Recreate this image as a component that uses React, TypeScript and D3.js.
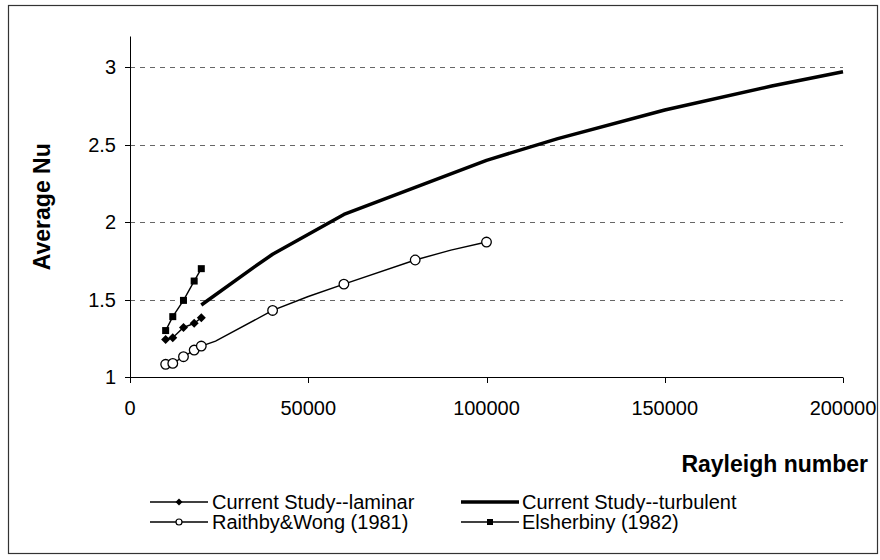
import React from "react";
import * as d3 from "d3";

// Current study, laminar regime
const laminarRa = [10000, 12000, 15000, 18000, 20000];
const laminarNu = [1.243, 1.254, 1.32, 1.347, 1.383];

// Current study, turbulent regime
const turbulentRa = [20000, 35000, 40000, 60000, 80000, 100000, 120000, 150000, 180000, 200000];
const turbulentNu = [1.465, 1.713, 1.793, 2.05, 2.225, 2.4, 2.54, 2.725, 2.88, 2.972];

// Raithby & Wong (1981) correlation; marked entries carry a circle
const raithbyRa = [10000, 12000, 15000, 18000, 20000, 24000, 40000, 50000, 60000, 80000, 90000, 100000];
const raithbyNu = [1.082, 1.088, 1.131, 1.174, 1.2, 1.232, 1.43, 1.52, 1.6, 1.756, 1.82, 1.872];
const raithbyMarked = [true, true, true, true, true, false, true, false, true, true, false, true];

// Elsherbiny (1982)
const elsherbinyRa = [10000, 12000, 15000, 18000, 20000];
const elsherbinyNu = [1.3, 1.39, 1.495, 1.62, 1.7];

const xTicks = [0, 50000, 100000, 150000, 200000];
const yTicks = [1, 1.5, 2, 2.5, 3];
const yGrid = [1.5, 2, 2.5, 3];

const W = 880;
const H = 560;
const FONT = "'Liberation Sans', Arial, Helvetica, sans-serif";

type Pt = [number, number];
const zip = (a: number[], b: number[]): Pt[] => a.map((v, i) => [v, b[i]]);

export default function App() {
  const x = d3.scaleLinear().domain([0, 200000]).range([130, 843]);
  const y = d3.scaleLinear().domain([1, 3.2]).range([377, 36.5]);
  const line = d3
    .line<Pt>()
    .x((d) => x(d[0]))
    .y((d) => y(d[1]));

  const laminar = zip(laminarRa, laminarNu);
  const turbulent = zip(turbulentRa, turbulentNu);
  const raithby = zip(raithbyRa, raithbyNu);
  const elsherbiny = zip(elsherbinyRa, elsherbinyNu);

  const diamond = (cx: number, cy: number, s = 4.5) =>
    `M${cx},${cy - s}L${cx + s},${cy}L${cx},${cy + s}L${cx - s},${cy}Z`;

  return (
    <svg
      width={W}
      height={H}
      style={{ position: "absolute", left: 0, top: 0, display: "block" }}
      fontFamily={FONT}
    >
      <rect x={0} y={0} width={W} height={H} fill="#fff" />
      <rect x={8.5} y={5.5} width={869} height={548} fill="none" stroke="#333" strokeWidth={1.2} />

      {/* horizontal dashed gridlines */}
      {yGrid.map((v) => (
        <line
          key={`g${v}`}
          x1={x(0)}
          x2={x(200000)}
          y1={Math.round(y(v)) + 0.5}
          y2={Math.round(y(v)) + 0.5}
          stroke="#666"
          strokeWidth={1}
          strokeDasharray="5,5"
        />
      ))}

      {/* axes */}
      <line x1={130.5} x2={130.5} y1={y(3.2)} y2={y(1)} stroke="#000" strokeWidth={1} />
      <line x1={x(0)} x2={x(200000)} y1={377.5} y2={377.5} stroke="#000" strokeWidth={1} />
      {yTicks.map((v) => (
        <g key={`yt${v}`}>
          <line x1={125} x2={130.5} y1={Math.round(y(v)) + 0.5} y2={Math.round(y(v)) + 0.5} stroke="#000" />
          <text x={116} y={y(v)} dy="0.35em" textAnchor="end" fontSize={20} fill="#000">
            {v}
          </text>
        </g>
      ))}
      {xTicks.map((v) => (
        <g key={`xt${v}`}>
          <line x1={Math.round(x(v)) + 0.5} x2={Math.round(x(v)) + 0.5} y1={377.5} y2={383} stroke="#000" />
          <text x={x(v)} y={415} textAnchor="middle" fontSize={20} fill="#000">
            {v}
          </text>
        </g>
      ))}

      <text
        transform={`translate(50,${(y(1) + y(3.2)) / 2}) rotate(-90)`}
        textAnchor="middle"
        fontSize={23}
        fontWeight="bold"
        fill="#000"
      >
        Average Nu
      </text>
      <text x={868} y={472} textAnchor="end" fontSize={23} fontWeight="bold" fill="#000">
        Rayleigh number
      </text>

      {/* series */}
      <path d={line(turbulent) || ""} fill="none" stroke="#000" strokeWidth={3.5} strokeLinejoin="round" />
      <path d={line(raithby) || ""} fill="none" stroke="#000" strokeWidth={1.4} />
      <path d={line(laminar) || ""} fill="none" stroke="#000" strokeWidth={1.4} />
      <path d={line(elsherbiny) || ""} fill="none" stroke="#000" strokeWidth={1.4} />

      {raithby.map((d, i) =>
        raithbyMarked[i] ? (
          <circle key={`rc${i}`} cx={x(d[0])} cy={y(d[1])} r={4.8} fill="#fff" stroke="#000" strokeWidth={1.3} />
        ) : null
      )}
      {laminar.map((d, i) => (
        <path key={`ld${i}`} d={diamond(x(d[0]), y(d[1]))} fill="#000" />
      ))}
      {elsherbiny.map((d, i) => (
        <rect key={`es${i}`} x={x(d[0]) - 3.5} y={y(d[1]) - 3.5} width={7} height={7} fill="#000" />
      ))}

      {/* legend */}
      <g fontSize={20} fill="#000">
        <line x1={150} x2={208} y1={502} y2={502} stroke="#000" strokeWidth={1.4} />
        <path d={diamond(179, 502, 3.5)} fill="#000" />
        <text x={212} y={502} dy="0.35em">Current Study--laminar</text>

        <line x1={461} x2={519} y1={502} y2={502} stroke="#000" strokeWidth={3.5} />
        <text x={522} y={502} dy="0.35em">Current Study--turbulent</text>

        <line x1={150} x2={208} y1={522} y2={522} stroke="#000" strokeWidth={1.4} />
        <circle cx={179} cy={522} r={3} fill="#fff" stroke="#000" strokeWidth={1.2} />
        <text x={212} y={522} dy="0.35em">Raithby&amp;Wong (1981)</text>

        <line x1={461} x2={519} y1={522} y2={522} stroke="#000" strokeWidth={1.4} />
        <rect x={487} y={519} width={6} height={6} fill="#000" />
        <text x={522} y={522} dy="0.35em">Elsherbiny (1982)</text>
      </g>
    </svg>
  );
}
